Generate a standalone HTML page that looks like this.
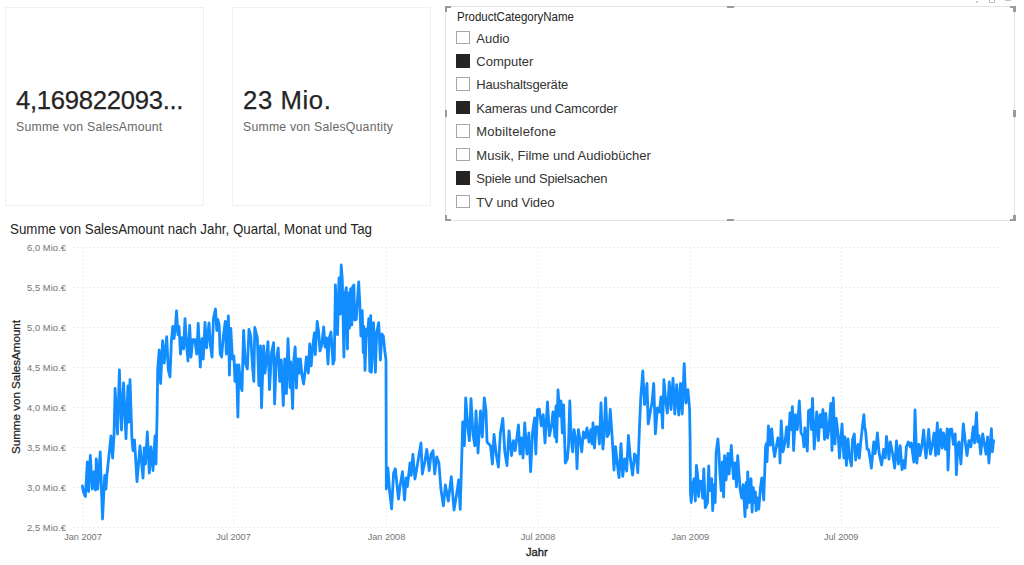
<!DOCTYPE html>
<html><head><meta charset="utf-8"><title>Report</title>
<style>
html,body{margin:0;padding:0;background:#fff;}
body{width:1024px;height:565px;position:relative;overflow:hidden;font-family:"Liberation Sans",sans-serif;color:#252423;}
.card{position:absolute;top:7px;width:197px;height:197px;border:1px solid #f0f0f0;box-sizing:content-box;background:#fff;}
.big{position:absolute;left:10px;top:76.7px;font-size:25.7px;-webkit-text-stroke:0.25px #252423;line-height:30px;color:#252423;white-space:nowrap;}
.sub{position:absolute;left:10px;top:111.9px;font-size:12.3px;letter-spacing:0.2px;line-height:14px;color:#6a6866;white-space:nowrap;}
.slicer{position:absolute;left:445.4px;top:6.4px;width:567.5px;height:212.5px;border:1px solid #e2e2e2;background:#fff;box-sizing:content-box;}
.hd{position:absolute;left:456.5px;top:10.3px;font-size:12.2px;line-height:14px;transform:scaleX(0.943);transform-origin:0 0;color:#252423;white-space:nowrap;}
.cb{position:absolute;left:456px;width:11.5px;height:11.5px;border:1px solid #a6a6a6;background:#fff;}
.cb.on{background:#252423;border-color:#252423;}
.it{position:absolute;left:476.3px;font-size:13px;line-height:20px;color:#333;white-space:nowrap;}
.title{position:absolute;left:10px;top:221px;font-size:14.4px;line-height:16px;transform:scaleX(0.926);transform-origin:0 0;color:#252423;white-space:nowrap;}
.xt{position:absolute;left:526.3px;top:545px;font-size:11.8px;line-height:14px;color:#252423;white-space:nowrap;-webkit-text-stroke:0.35px #252423;transform:scaleX(0.95);transform-origin:0 0;}
.yt{position:absolute;left:15.8px;top:387px;font-size:11.6px;line-height:14px;color:#252423;white-space:nowrap;-webkit-text-stroke:0.25px #252423;transform:translate(-50%,-50%) rotate(-90deg);}
.h{position:absolute;background:#9a9a9a;}
svg{position:absolute;left:0;top:0;}
.g{stroke:#dedede;stroke-width:1;stroke-dasharray:1 3;}
.ax{font-family:"Liberation Sans",sans-serif;font-size:9.4px;fill:#757371;letter-spacing:0.05px;}
</style></head><body>
<div class="card" style="left:5px"><div class="big" id="b1" style="letter-spacing:-0.3px">4,169822093...</div><div class="sub" id="s1">Summe von SalesAmount</div></div>
<div class="card" style="left:232px"><div class="big" id="b2" style="letter-spacing:0.6px">23 Mio.</div><div class="sub" id="s2">Summe von SalesQuantity</div></div>
<div class="slicer"></div>
<div class="hd" id="hd">ProductCategoryName</div>
<div class="cb" style="top:30.5px"></div><div class="it" style="top:28.5px;letter-spacing:0px">Audio</div>
<div class="cb on" style="top:54.0px"></div><div class="it" style="top:52.0px;letter-spacing:0px">Computer</div>
<div class="cb" style="top:77.4px"></div><div class="it" style="top:75.4px;letter-spacing:-0.19px">Haushaltsgeräte</div>
<div class="cb on" style="top:100.8px"></div><div class="it" style="top:98.8px;letter-spacing:-0.2px">Kameras und Camcorder</div>
<div class="cb" style="top:124.3px"></div><div class="it" style="top:122.3px;letter-spacing:0.2px">Mobiltelefone</div>
<div class="cb" style="top:147.8px"></div><div class="it" style="top:145.8px;letter-spacing:0.01px">Musik, Filme und Audiobücher</div>
<div class="cb on" style="top:171.2px"></div><div class="it" style="top:169.2px;letter-spacing:-0.22px">Spiele und Spielsachen</div>
<div class="cb" style="top:194.7px"></div><div class="it" style="top:192.7px;letter-spacing:-0.04px">TV und Video</div>
<!-- handles -->
<div class="h" style="left:445px;top:6px;width:6px;height:2.4px"></div><div class="h" style="left:445px;top:6px;width:2.4px;height:6px"></div>
<div class="h" style="left:1009.6px;top:6px;width:6px;height:2.4px"></div><div class="h" style="left:1013.2px;top:6px;width:2.4px;height:6px"></div>
<div class="h" style="left:445px;top:219px;width:6px;height:2.4px"></div><div class="h" style="left:445px;top:215.4px;width:2.4px;height:6px"></div>
<div class="h" style="left:1009.6px;top:219px;width:6px;height:2.4px"></div><div class="h" style="left:1013.2px;top:215.4px;width:2.4px;height:6px"></div>
<div class="h" style="left:726.5px;top:6px;width:7px;height:2.4px"></div><div class="h" style="left:726.5px;top:219px;width:7px;height:2.4px"></div>
<div class="h" style="left:445px;top:109.5px;width:2.4px;height:7px"></div><div class="h" style="left:1013.2px;top:109.5px;width:2.4px;height:7px"></div>
<div style="position:absolute;left:975.5px;top:1px;width:2px;height:1.5px;background:#d0d0d0"></div>
<div style="position:absolute;left:989px;top:-2px;width:6px;height:5px;border:1px solid #b8b8b8;border-radius:1px;box-sizing:border-box"></div>
<div style="position:absolute;left:1005px;top:0;width:6px;height:1px;background:#c4c4c4"></div>
<div class="title" id="ti">Summe von SalesAmount nach Jahr, Quartal, Monat und Tag</div>
<svg width="1024" height="565" viewBox="0 0 1024 565">
<line x1="74" y1="247.5" x2="1002" y2="247.5" class="g"/>
<line x1="74" y1="287.5" x2="1002" y2="287.5" class="g"/>
<line x1="74" y1="327.5" x2="1002" y2="327.5" class="g"/>
<line x1="74" y1="367.5" x2="1002" y2="367.5" class="g"/>
<line x1="74" y1="407.5" x2="1002" y2="407.5" class="g"/>
<line x1="74" y1="447.5" x2="1002" y2="447.5" class="g"/>
<line x1="74" y1="487.5" x2="1002" y2="487.5" class="g"/>
<line x1="74" y1="527.5" x2="1002" y2="527.5" class="g"/>
<line x1="83" y1="247.5" x2="83" y2="527.5" class="g"/>
<line x1="233.5" y1="247.5" x2="233.5" y2="527.5" class="g"/>
<line x1="386.5" y1="247.5" x2="386.5" y2="527.5" class="g"/>
<line x1="538" y1="247.5" x2="538" y2="527.5" class="g"/>
<line x1="690.4" y1="247.5" x2="690.4" y2="527.5" class="g"/>
<line x1="841.2" y1="247.5" x2="841.2" y2="527.5" class="g"/>
<text x="66" y="250.8" text-anchor="end" class="ax">6,0 Mio.€</text>
<text x="66" y="290.8" text-anchor="end" class="ax">5,5 Mio.€</text>
<text x="66" y="330.8" text-anchor="end" class="ax">5,0 Mio.€</text>
<text x="66" y="370.8" text-anchor="end" class="ax">4,5 Mio.€</text>
<text x="66" y="410.8" text-anchor="end" class="ax">4,0 Mio.€</text>
<text x="66" y="450.8" text-anchor="end" class="ax">3,5 Mio.€</text>
<text x="66" y="490.8" text-anchor="end" class="ax">3,0 Mio.€</text>
<text x="66" y="530.8" text-anchor="end" class="ax">2,5 Mio.€</text>
<text x="83" y="540.2" text-anchor="middle" class="ax" style="font-size:9.15px;letter-spacing:0">Jan 2007</text>
<text x="233.5" y="540.2" text-anchor="middle" class="ax" style="font-size:9.15px;letter-spacing:0">Jul 2007</text>
<text x="386.5" y="540.2" text-anchor="middle" class="ax" style="font-size:9.15px;letter-spacing:0">Jan 2008</text>
<text x="538" y="540.2" text-anchor="middle" class="ax" style="font-size:9.15px;letter-spacing:0">Jul 2008</text>
<text x="690.4" y="540.2" text-anchor="middle" class="ax" style="font-size:9.15px;letter-spacing:0">Jan 2009</text>
<text x="841.2" y="540.2" text-anchor="middle" class="ax" style="font-size:9.15px;letter-spacing:0">Jul 2009</text>
<polyline points="82.4,486.0 83.5,492.0 85.4,496.5 87.3,462.0 88.6,491.5 90.3,455.5 92.3,489.0 94.0,472.0 95.5,490.0 96.3,459.0 97.8,489.0 100.2,452.0 102.5,519.0 104.7,475.5 106.0,489.0 107.0,474.0 111.0,436.0 112.6,458.0 114.0,436.0 115.1,388.5 117.5,434.0 119.4,370.0 121.5,430.0 123.6,383.0 126.0,438.7 127.9,386.0 128.8,422.0 130.0,379.7 131.9,438.0 133.0,450.7 134.5,440.0 137.0,481.7 140.0,445.8 143.0,478.0 144.2,448.0 145.5,464.0 147.3,432.0 149.3,473.0 151.0,447.0 153.0,470.5 155.0,436.0 156.0,464.0 157.1,414.0 157.7,369.0 159.2,350.0 160.6,383.5 162.6,340.7 164.2,363.0 166.7,336.6 168.3,370.0 170.0,377.0 171.4,340.7 172.8,326.5 174.0,338.7 175.4,327.5 176.5,311.0 178.0,334.6 179.0,326.5 180.5,354.0 182.0,337.7 183.6,348.9 185.0,318.7 186.6,344.8 188.0,361.0 189.7,325.4 191.0,357.0 192.7,339.7 194.8,339.7 196.8,354.0 198.2,323.4 200.3,367.0 202.0,338.7 203.3,359.0 205.0,322.4 206.6,347.8 209.0,322.8 210.5,345.8 212.0,357.0 213.5,318.0 215.5,309.0 216.8,330.5 217.8,319.3 219.2,325.4 220.2,354.0 221.6,357.0 223.3,336.6 225.3,321.4 226.3,354.0 228.4,315.9 229.4,375.0 230.8,328.5 232.4,359.0 233.9,356.0 235.0,381.4 236.5,365.0 237.9,417.0 238.9,365.0 240.6,385.5 242.0,390.6 243.6,330.5 245.3,363.0 247.3,369.0 249.0,329.5 250.8,336.6 252.4,365.0 253.8,381.4 254.8,327.5 257.3,337.7 258.9,385.5 260.5,345.8 261.5,407.8 263.6,345.8 265.0,373.0 266.6,358.0 268.0,341.7 269.5,389.6 271.5,353.0 273.6,342.7 274.6,404.0 276.2,361.0 278.2,347.8 279.7,381.4 281.3,360.0 283.3,405.5 284.7,359.0 286.4,393.6 288.0,338.7 290.0,387.5 290.8,362.0 292.6,408.5 293.9,359.0 295.2,347.0 296.4,388.0 297.7,359.0 299.1,373.0 300.4,359.0 301.9,375.0 303.6,384.0 305.1,371.0 306.4,357.0 308.3,373.0 309.7,344.0 311.2,365.8 312.5,349.0 314.4,333.0 315.3,354.6 317.2,321.5 318.7,332.3 320.0,351.0 321.8,344.4 323.7,327.0 325.0,347.0 326.5,338.0 328.0,364.0 329.3,338.0 331.0,332.0 333.0,364.0 334.3,360.0 335.4,285.0 337.5,334.6 339.0,278.0 340.2,314.0 341.2,265.0 342.3,279.0 343.9,357.0 345.0,295.0 346.3,287.6 347.4,349.0 348.3,293.0 349.5,328.0 350.6,289.0 351.8,325.0 352.6,287.0 353.9,285.0 354.7,320.0 356.3,319.5 357.4,301.0 358.7,282.0 359.8,303.0 360.9,336.0 362.2,310.7 363.3,352.8 364.0,326.7 365.0,370.4 366.4,329.5 367.5,335.0 368.8,318.7 369.8,371.3 370.7,315.6 371.4,372.3 373.5,322.7 375.4,372.3 376.7,332.3 378.7,322.6 380.4,360.0 381.9,334.0 383.3,336.0 385.0,352.8 386.0,360.0 386.3,489.0 387.9,468.0 389.6,491.0 391.6,508.9 393.6,473.0 395.3,468.7 398.5,499.0 400.0,486.6 402.5,471.7 404.5,500.0 406.2,478.0 407.4,486.6 410.0,463.0 411.2,475.4 412.9,454.3 414.9,479.0 417.3,465.5 419.3,453.0 421.0,443.0 422.3,474.0 424.8,461.8 426.8,449.4 429.2,470.5 431.0,454.3 433.0,450.6 434.7,474.0 436.7,456.8 438.9,463.0 440.9,489.0 443.4,505.9 445.4,485.0 448.3,501.0 451.3,476.7 454.0,510.0 456.5,495.0 458.7,480.0 460.2,509.4 462.0,449.0 462.7,422.0 464.4,445.7 465.7,397.8 468.0,429.6 469.4,440.7 471.0,398.6 473.0,434.5 474.8,445.7 476.0,411.0 478.0,453.0 480.5,411.0 482.3,437.0 484.3,397.8 486.0,411.0 487.0,442.0 490.5,445.7 492.4,464.0 494.0,434.5 496.2,454.3 498.4,467.0 500.4,433.0 502.8,418.4 504.8,451.9 507.0,465.5 509.0,430.8 511.5,455.6 513.5,440.7 515.2,450.6 518.5,425.0 520.0,454.0 521.4,438.0 523.0,458.0 524.7,423.0 526.9,454.0 528.9,433.0 530.6,471.7 532.6,432.0 534.6,418.0 535.8,454.0 537.5,409.7 539.3,409.2 541.3,425.8 543.2,414.7 545.0,443.0 547.5,401.8 549.4,435.8 551.7,424.6 553.0,412.0 554.9,437.0 556.0,406.0 556.6,442.0 558.0,390.0 559.9,416.0 561.0,401.0 562.3,433.0 563.6,404.8 565.3,463.0 567.3,459.0 568.5,445.7 569.8,401.0 571.0,435.8 572.7,451.9 574.0,429.6 576.0,440.7 577.0,468.7 578.4,429.6 580.4,442.0 581.7,451.9 583.4,432.0 585.4,438.0 587.0,428.0 589.0,442.0 590.8,429.6 592.0,444.0 593.0,423.0 594.5,448.0 596.0,427.0 598.0,427.0 599.4,444.0 601.0,403.0 602.9,449.0 604.1,435.5 605.6,398.0 607.3,436.7 608.6,434.0 610.3,409.5 611.8,431.8 612.8,447.9 614.0,470.0 615.5,446.7 617.3,464.0 619.0,477.6 621.0,443.7 622.7,476.4 624.7,459.0 626.7,471.0 628.4,435.5 630.4,459.0 632.6,475.0 634.6,454.0 636.3,456.6 637.8,472.7 639.6,424.0 640.8,397.0 642.8,371.0 644.5,404.5 647.0,383.5 648.2,424.0 650.7,409.5 652.0,403.0 653.7,383.5 655.4,433.8 657.4,408.0 659.4,412.0 661.0,397.0 662.6,428.0 663.9,379.7 665.6,399.6 667.3,413.0 669.3,382.0 671.0,409.5 673.0,378.5 674.8,414.0 676.7,384.7 678.7,415.0 680.5,383.5 682.2,414.0 684.2,363.6 685.9,403.0 687.9,389.7 689.6,409.5 690.1,440.0 690.4,492.0 691.2,502.5 692.6,484.6 694.1,478.7 695.3,501.0 696.4,465.3 697.6,475.0 698.6,496.5 699.8,481.0 701.6,481.6 702.6,498.0 703.8,469.0 705.3,507.7 707.5,502.5 708.7,466.0 709.7,490.6 711.7,478.7 712.7,510.6 714.2,484.6 715.2,502.5 716.1,453.4 717.9,439.0 719.0,453.4 719.9,473.5 721.2,490.6 722.4,462.0 723.6,497.0 724.6,455.6 726.1,480.0 727.9,453.4 729.1,474.0 731.3,445.5 732.3,462.0 733.5,478.7 735.0,463.0 736.5,486.8 737.7,455.6 739.0,474.0 740.2,489.8 741.7,498.0 743.2,484.6 745.0,516.6 746.2,482.4 747.0,507.7 747.7,472.0 749.1,502.5 751.0,478.7 752.1,512.0 753.3,487.6 754.3,502.5 755.4,492.0 756.1,510.6 757.3,498.0 758.8,509.0 760.3,489.0 761.8,478.0 763.7,500.0 764.8,469.7 765.5,447.4 766.2,443.7 767.0,461.6 768.4,426.0 770.2,445.0 771.7,428.8 773.4,448.0 774.6,456.6 775.9,449.0 777.9,438.0 779.6,448.0 780.0,463.0 781.2,420.8 783.0,451.8 785.0,441.9 786.7,427.0 788.2,446.8 790.0,413.0 791.2,429.5 792.4,406.7 793.6,450.5 795.4,414.6 797.3,429.5 799.3,401.0 801.0,433.0 802.8,435.7 804.0,446.8 804.8,428.0 806.0,438.0 807.3,451.0 808.5,410.9 810.2,409.6 811.5,429.5 812.5,398.5 814.2,449.0 816.7,412.0 818.4,440.6 820.0,414.6 821.6,427.0 822.9,409.6 824.6,439.4 825.8,413.4 827.6,438.0 829.0,428.0 830.8,403.4 832.0,450.5 833.3,397.8 835.0,444.0 836.2,418.3 838.2,435.7 839.5,458.0 842.0,424.0 843.9,458.0 844.9,437.0 846.4,465.4 848.0,439.0 849.4,456.7 851.4,466.0 852.6,439.4 854.3,434.0 855.6,460.0 858.0,444.3 859.3,458.0 860.7,442.6 862.3,428.0 863.9,414.6 864.7,428.0 865.5,430.0 867.1,449.0 868.7,449.8 870.3,460.0 871.4,468.0 872.7,453.7 873.8,441.8 875.0,453.7 876.2,446.0 877.4,433.0 879.1,453.0 881.6,465.0 883.6,449.3 885.3,458.0 886.5,436.4 889.0,459.2 890.3,441.9 892.7,454.2 894.7,468.0 896.5,441.0 898.4,464.0 900.2,445.6 902.0,469.6 903.9,460.4 905.0,468.0 906.4,446.8 908.3,442.0 910.1,446.8 911.3,443.0 913.8,462.0 915.0,410.0 916.8,463.0 918.8,444.3 920.0,455.5 921.7,446.8 923.7,430.0 925.0,449.3 926.0,458.0 927.4,444.3 928.7,429.5 930.4,454.2 932.4,444.3 934.1,433.0 935.6,455.5 937.3,423.0 938.6,454.2 940.6,429.5 942.3,448.0 943.5,433.0 945.5,449.3 947.2,429.0 948.0,470.0 949.7,429.5 951.7,429.0 953.4,444.3 955.2,434.0 956.4,474.6 957.9,444.3 959.1,441.9 960.9,464.0 963.3,424.0 965.3,441.9 967.0,455.5 969.0,440.6 970.8,446.8 973.3,427.0 974.5,443.0 976.5,412.6 977.7,441.9 979.0,435.7 980.7,454.0 982.7,434.0 984.4,444.3 986.1,454.2 987.6,437.0 988.9,463.0 991.4,428.7 992.3,451.8 993.6,440.6" fill="none" stroke="#118dff" stroke-width="2.8" stroke-linejoin="round" stroke-linecap="round"/>
</svg>
<div class="xt" id="xt">Jahr</div>
<div class="yt" id="yt">Summe von SalesAmount</div>
</body></html>
